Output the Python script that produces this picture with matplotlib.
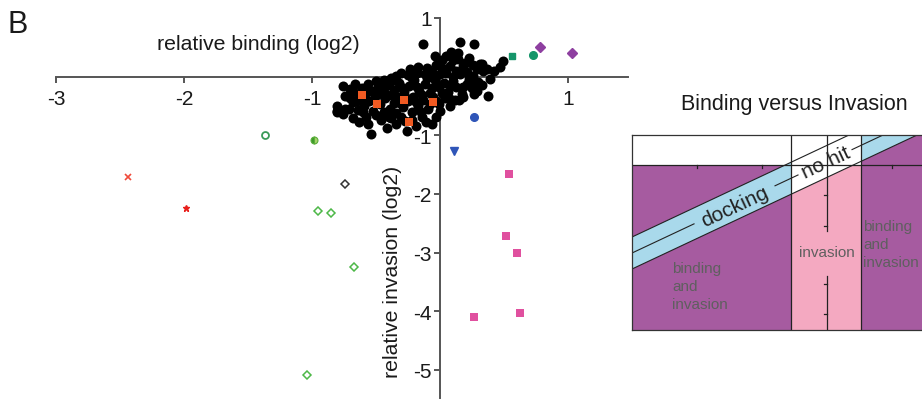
import matplotlib.pyplot as plt
from matplotlib.patches import Polygon, Rectangle

plt.rcParams['font.family'] = ['Liberation Sans', 'DejaVu Sans']

# screen of mutants: relative binding (x) vs relative invasion (y), log2
black_x = [-0.13, 0.16, 0.27, -0.04, 0.09, 0.14, 0.05, 0.23, 0.20, 0.29, 0.33, 0.37, 0.47, 0.49,
           0.14, 0.26, 0.39, 0.30, 0.23, 0.18, 0.18, 0.29, 0.38, 0.34, 0.31,
           -0.23, -0.17, -0.10, -0.03, 0.02, 0.08, 0.13, -0.30, -0.25, -0.18, -0.12, -0.06, 0.00,
           0.05, 0.10, 0.16, 0.21, 0.26, -0.38, -0.44, -0.34,
           -0.76, -0.70, -0.66, -0.61, -0.56, -0.52, -0.48, -0.44, -0.40, -0.36, -0.32, -0.28,
           -0.24, -0.20, -0.16, -0.12, -0.08, -0.04, -0.01, 0.03, 0.06, 0.10, 0.13, 0.17, 0.21,
           0.25, 0.27,
           -0.74, -0.68, -0.63, -0.59, -0.55, -0.51, -0.47, -0.43, -0.39, -0.36, -0.32, -0.29,
           -0.25, -0.21, -0.17, -0.13, -0.09, -0.05, -0.01, 0.04, 0.08, 0.12, -0.80, -0.71,
           -0.64, -0.22, -0.34,
           -0.80, -0.76, -0.63, -0.58, -0.56, -0.54, -0.50, -0.46, -0.41, -0.38, -0.34, -0.30,
           -0.26, -0.22, -0.19, -0.14, -0.11, -0.06, -0.03, -0.68, -0.52,
           -0.80, -0.74, -0.68, -0.65,
           -0.42, -0.30, -0.18, -0.06, 0.08, -0.48, -0.38, -0.27, -0.14, -0.03, 0.02, -0.60,
           -0.44, -0.31, -0.19, -0.08, -0.27, -0.15, -0.60, -0.40, 0.10, 0.02, 0.18, 0.24,
           0.33, 0.42, 0.15, 0.08, -0.50, -0.35, -0.10, 0.00, -0.22, -0.45, -0.57, -0.70]
black_y = [0.56, 0.59, 0.56, 0.36, 0.42, 0.40, 0.36, 0.31, 0.24, 0.13, 0.22, 0.13, 0.17, 0.27,
           0.30, 0.20, -0.04, -0.09, -0.04, -0.18, -0.35, -0.24, -0.33, 0.09, 0.22,
           0.13, 0.17, 0.15, 0.20, 0.14, 0.18, 0.10, 0.07, 0.02, 0.06, 0.04, 0.08, 0.04,
           0.06, 0.00, 0.05, 0.08, 0.01, -0.02, -0.05, 0.01,
           -0.16, -0.21, -0.12, -0.20, -0.13, -0.25, -0.17, -0.27, -0.15, -0.22, -0.10, -0.27,
           -0.16, -0.06, -0.25, -0.13, -0.28, -0.06, -0.18, -0.10, -0.26, -0.07, -0.18, -0.29, -0.12,
           -0.20, -0.30,
           -0.33, -0.44, -0.35, -0.50, -0.41, -0.33, -0.47, -0.37, -0.55, -0.45, -0.34, -0.52,
           -0.42, -0.34, -0.50, -0.39, -0.55, -0.34, -0.47, -0.37, -0.50, -0.40, -0.50, -0.55,
           -0.57, -0.60, -0.62,
           -0.60, -0.64, -0.77, -0.68, -0.81, -0.98, -0.66, -0.74, -0.88, -0.70, -0.80, -0.68,
           -0.93, -0.74, -0.84, -0.68, -0.78, -0.81, -0.68, -0.70, -0.58,
           -0.58, -0.55, -0.24, -0.42,
           -0.08, -0.18, -0.17, -0.20, -0.15, -0.30, -0.32, -0.35, -0.31, -0.42, -0.28, -0.38,
           -0.60, -0.45, -0.43, -0.46, -0.75, -0.60, -0.60, -0.68, 0.28, 0.28, 0.18, -0.10,
           -0.15, 0.10, -0.40, -0.38, -0.08, -0.05, -0.02, -0.58, -0.02, -0.20, -0.26, -0.37]

orange_x = [-0.61, -0.49, -0.28, -0.05, -0.24]
orange_y = [-0.31, -0.46, -0.39, -0.44, -0.77]
pink_x = [0.54, 0.52, 0.60, 0.63, 0.27]
pink_y = [-1.66, -2.72, -3.01, -4.03, -4.10]
green_dia_x = [-0.95, -0.85, -0.67, -1.04]
green_dia_y = [-2.29, -2.32, -3.24, -5.08]
purple_x = [0.78, 1.03]
purple_y = [0.51, 0.40]

fig = plt.figure(figsize=(9.22, 4.02), dpi=100)
ax = fig.add_axes([0.0607, 0.0075, 0.6204, 0.9453])

ax.scatter(black_x, black_y, s=52, color='black', zorder=3, linewidths=0)
ax.scatter(orange_x, orange_y, s=36, marker='s', color='#f05a22', zorder=4, linewidths=0)
ax.scatter(pink_x, pink_y, s=26, marker='s', color='#e0509f', zorder=4, linewidths=0)
ax.plot(green_dia_x, green_dia_y, 'D', ms=4.5, mfc='white', mec='#4db848', mew=1.1, zorder=4)
ax.plot([-0.74], [-1.83], 'D', ms=4.5, mfc='white', mec='#333333', mew=1.1, zorder=4)
ax.plot([-1.37], [-0.99], 'o', ms=5, mfc='white', mec='#3a9a58', mew=1.3, zorder=4)
ax.plot([-0.98], [-1.08], 'o', ms=5, fillstyle='left', mfc='#3d9a2a', mfcalt='#a6d36a',
        mec='#5aae3a', mew=0.8, zorder=4)
ax.plot([-2.44], [-1.71], 'x', ms=4, color='#f04a3a', mew=1.2, zorder=4)
ax.plot([-1.98], [-2.24], '*', ms=5, color='#e8201c', zorder=4)
ax.plot([0.27], [-0.69], 'o', ms=5.5, color='#2f55b8', zorder=4)
ax.plot([0.11], [-1.27], 'v', ms=6, color='#2f55b8', zorder=4)
ax.plot([0.56], [0.35], 's', ms=5, color='#15956a', zorder=4)
ax.plot([0.73], [0.37], 'o', ms=5.5, color='#15956a', zorder=4)
ax.plot(purple_x, purple_y, 'D', ms=5, color='#8e3fa0', zorder=4)

ax.set_xlim(-3, 1.47)
ax.set_ylim(-5.477, 1.0)
ax.patch.set_alpha(0)
for side in ['top', 'right']:
    ax.spines[side].set_visible(False)
ax.spines['left'].set_position(('data', 0))
ax.spines['bottom'].set_position(('data', 0))
for side in ['left', 'bottom']:
    ax.spines[side].set_color('#555555')
    ax.spines[side].set_linewidth(1.4)
ax.set_xticks([-3, -2, -1, 1])
ax.set_xticklabels(['-3', '-2', '-1', '1'])
ax.set_yticks([1, -1, -2, -3, -4, -5])
ax.set_yticklabels(['1', '-1', '-2', '-3', '-4', '-5'])
ax.tick_params(axis='x', direction='out', length=4, width=1.4, color='#555555',
               labelsize=15, pad=5, labelcolor='#1a1a1a')
ax.tick_params(axis='y', direction='out', length=4, width=1.4, color='#555555',
               labelsize=15, pad=2, labelcolor='#1a1a1a')

ax.text(-1.42, 0.56, 'relative binding (log2)', fontsize=15.3, ha='center', va='center',
        color='#1a1a1a')
ax.text(-0.37, -3.31, 'relative invasion (log2)', fontsize=15.3, ha='center', va='center',
        rotation=90, color='#1a1a1a')
fig.text(0.008, 0.918, 'B', fontsize=22, color='#1a1a1a', ha='left', va='baseline')

# inset schematic: Binding versus Invasion
fig.text(0.861, 0.739, 'Binding versus Invasion', fontsize=15.5, ha='center', va='center',
         color='#1a1a1a')
ins = fig.add_axes([0.6855, 0.1766, 0.3145, 0.4851])
W, H = 290, 195
ins.set_xlim(0, W)
ins.set_ylim(H, 0)
ins.set_xticks([])
ins.set_yticks([])
purple = '#a65ba0'
pinkc = '#f4a9c1'
blue = '#a9d9eb'
c1, c2, hline = 159, 229, 30


def edge(x, off):
    return 102 - 0.47 * x + off


ins.add_patch(Rectangle((0, hline), c1, H - hline, color=purple, lw=0))
ins.add_patch(Rectangle((c1, hline), c2 - c1, H - hline, color=pinkc, lw=0))
ins.add_patch(Rectangle((c2, 0), W - c2, H, color=purple, lw=0))
band = [(0, edge(0, 0)), (W, edge(W, 0)), (W, edge(W, 32)), (0, edge(0, 32))]
ins.add_patch(Polygon(band, closed=True, color=blue, lw=0))
mid = [(c1, edge(c1, 0)), (c2, edge(c2, 0)), (c2, edge(c2, 32)), (c1, edge(c1, 32))]
ins.add_patch(Polygon(mid, closed=True, color='white', lw=0))
for off in [0, 32]:
    ins.plot([0, W], [edge(0, off), edge(W, off)], color='#222222', lw=0.8)
for a, b in [(0, 62), (143, 166), (220, W)]:
    ins.plot([a, b], [edge(a, 16), edge(b, 16)], color='#222222', lw=0.8)
ins.axhline(hline, color='#222222', lw=0.9)
ins.axvline(c1, color='#222222', lw=0.9)
ins.axvline(c2, color='#222222', lw=0.9)
ins.plot([195, 195], [0, 96], color='#222222', lw=0.9)
ins.plot([195, 195], [141, H], color='#222222', lw=0.9)
for ty in [60, 91, 149, 179]:
    ins.plot([192, 195], [ty, ty], color='#222222', lw=0.9)
for tx in [65, 130, 260]:
    ins.plot([tx, tx], [hline, hline + 3], color='#222222', lw=0.9)

ins.text(103, 71, 'docking', rotation=25, fontsize=15, ha='center', va='center',
         color='#222222', rotation_mode='anchor')
ins.text(194, 27, 'no hit', rotation=25, fontsize=15, ha='center', va='center',
         color='#222222', rotation_mode='anchor')
ins.text(40, 126, 'binding\nand\ninvasion', fontsize=11, ha='left', va='top',
         color='#5f5f5f', linespacing=1.35)
ins.text(195, 117, 'invasion', fontsize=11, ha='center', va='center', color='#5f5f5f')
ins.text(231, 84, 'binding\nand\ninvasion', fontsize=11, ha='left', va='top',
         color='#5f5f5f', linespacing=1.35, clip_on=True)
for side in ['right']:
    ins.spines[side].set_visible(False)
for side in ['left', 'top', 'bottom']:
    ins.spines[side].set_color('#333333')
    ins.spines[side].set_linewidth(0.9)

fig.savefig('out.png', dpi=100)
